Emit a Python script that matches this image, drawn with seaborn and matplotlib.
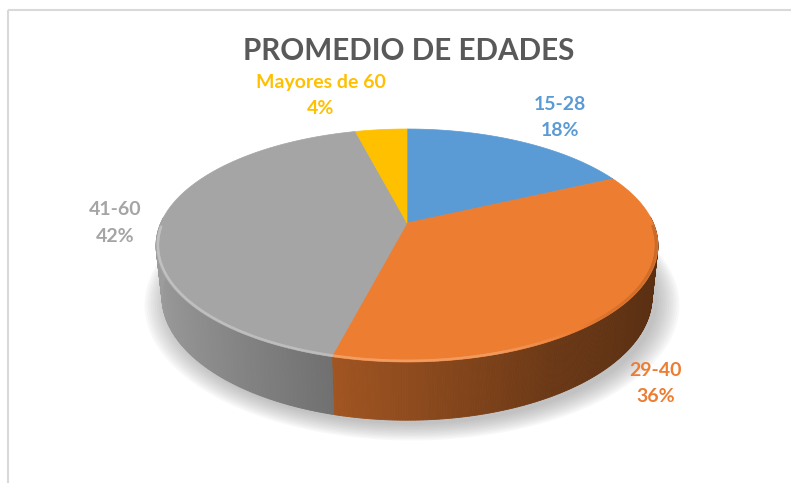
import numpy as np
import matplotlib
matplotlib.use("Agg")
import matplotlib.pyplot as plt
from matplotlib.patches import Polygon, Rectangle
from matplotlib.collections import PolyCollection, LineCollection
import seaborn as sns

# --- chart data -------------------------------------------------------------
categories = ["15-28", "29-40", "41-60", "Mayores de 60"]
percent = [18, 36, 42, 4]
slice_colors = ["#5b9bd5", "#ed7d31", "#a5a5a5", "#ffc000"]
title = "PROMEDIO DE EDADES"

# data label anchors (pixel centre x, baseline of first line)
label_pos = [(560, 110), (656, 376), (115.5, 215), (321, 88)]

W, H = 791, 483

# camera / disc parameters, fitted to the Excel 3-D pie
ELEV = np.deg2rad(27.1)
DIST = 4.606
SCALE = 1134.0
THICK = 0.235
CX, CY = 407.0, 223.0


def project(X, Y, Z):
    """Perspective projection of a point on the unit disc to pixel coords."""
    s, c = np.sin(ELEV), np.cos(ELEV)
    depth = DIST - s * Y - c * Z
    sx = X / depth
    sy = (c * Y - s * Z) / depth
    return CX + SCALE * sx, CY - SCALE * sy


def wall_shade(X):
    # light from the left: left wall bright, right wall dark
    return np.interp(X, [-1, -0.25, 0.5, 1], [0.95, 0.68, 0.45, 0.37])


def rim_tint(rgb, X):
    k = np.interp(X, [-1, 0.3, 0.7, 1], [0.30, 0.22, -0.08, -0.15])
    rgb = np.array(rgb)
    if k >= 0:
        return rgb + (1 - rgb) * k
    return rgb * (1 + k)


sns.set_style("white")
plt.rcParams["font.family"] = ["Lato", "DejaVu Sans"]

fig = plt.figure(figsize=(W / 100, H / 100), dpi=100)
ax = fig.add_axes([0, 0, 1, 1])
ax.set_xlim(0, W)
ax.set_ylim(H, 0)
ax.axis("off")

# chart frame (only top/left visible in the crop)
ax.add_patch(Rectangle((8, 10), W + 20, H + 20, fill=False,
                       ec="#d9d9d9", lw=1.5, zorder=0))

cols = sns.color_palette(slice_colors)
fracs = np.array(percent, dtype=float) / np.sum(percent)
edges = np.concatenate([[0], np.cumsum(fracs)]) * 2 * np.pi

# soft drop shadow under the disc (falls down and to the right)
t = np.linspace(0, 2 * np.pi, 240)
for k in range(12):
    r = 1.0 + 0.008 * k
    x, y = project(r * np.sin(t), -THICK, -r * np.cos(t))
    ax.fill(x + 5, y + 4, color="#8c8c8c", alpha=0.055, lw=0, zorder=1)

# outer walls
for i in range(len(percent)):
    n = max(int(np.degrees(edges[i + 1] - edges[i]) * 2), 4)
    th = np.linspace(edges[i], edges[i + 1], n)
    a, b = th[:-1], th[1:]
    m = (a + b) / 2
    keep = -np.cos(m) > -0.05
    a, b, m = a[keep], b[keep], m[keep]
    if len(m) == 0:
        continue
    xa, ya = project(np.sin(a), 0, -np.cos(a))
    xb, yb = project(np.sin(b), 0, -np.cos(b))
    xbb, ybb = project(np.sin(b), -THICK, -np.cos(b))
    xab, yab = project(np.sin(a), -THICK, -np.cos(a))
    polys = [[(xa[j], ya[j]), (xb[j], yb[j]), (xbb[j], ybb[j]), (xab[j], yab[j])]
             for j in range(len(m))]
    fcs = [np.clip(np.array(cols[i]) * wall_shade(np.sin(mm)), 0, 1) for mm in m]
    ax.add_collection(PolyCollection(polys, facecolors=fcs, edgecolors=fcs,
                                     linewidths=0.6, zorder=2))

# top faces
for i in range(len(percent)):
    th = np.linspace(edges[i], edges[i + 1], 200)
    x, y = project(np.sin(th), 0, -np.cos(th))
    x0, y0 = project(0, 0, 0)
    verts = np.column_stack([np.r_[x0, x], np.r_[y0, y]])
    ax.add_patch(Polygon(verts, closed=True, fc=cols[i], ec=cols[i],
                         lw=0.5, zorder=3))

# bevel highlight along the visible rim
for i in range(len(percent)):
    th = np.linspace(edges[i], edges[i + 1], 200)
    th = th[-np.cos(th) > 0.02]
    if len(th) < 2:
        continue
    x, y = project(0.993 * np.sin(th), 0, -0.993 * np.cos(th))
    segs = [[(x[j], y[j]), (x[j + 1], y[j + 1])] for j in range(len(th) - 1)]
    lc = [np.clip(rim_tint(cols[i], np.sin((th[j] + th[j + 1]) / 2)), 0, 1)
          for j in range(len(th) - 1)]
    ax.add_collection(LineCollection(segs, colors=lc, linewidths=1.8,
                                     capstyle="round", zorder=4))

# title
ax.text(408.5, 60, title, ha="center", va="baseline", fontsize=21.3,
        fontweight="bold", color="#595959", zorder=5)

# data labels
for (lx, ly), cat, p, c in zip(label_pos, categories, percent, cols):
    ax.text(lx, ly, cat, ha="center", va="baseline", fontsize=14,
            fontweight="bold", color=c, zorder=5)
    ax.text(lx, ly + 26.5, f"{p}%", ha="center", va="baseline", fontsize=14,
            fontweight="bold", color=c, zorder=5)

fig.savefig("out.png", dpi=100)
